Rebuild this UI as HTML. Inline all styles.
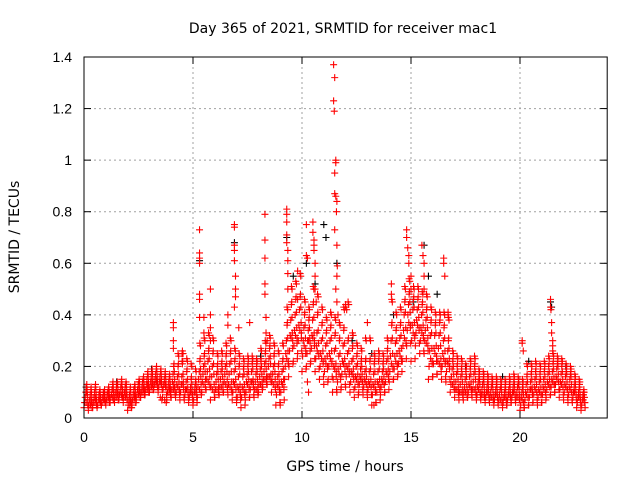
<!DOCTYPE html>
<html><head><meta charset="utf-8"><style>
body{margin:0;background:#fff;}
svg{display:block;font-family:"Liberation Sans",sans-serif;}
.tt{font-family:"DejaVu Sans","Liberation Sans",sans-serif;}
</style></head><body>
<svg id="chart" width="640" height="480">
<text class="tt" x="343" y="33" text-anchor="middle" font-size="14">Day 365 of 2021, SRMTID for receiver mac1</text>
<text class="tt" x="345" y="471" text-anchor="middle" font-size="14">GPS time / hours</text>
<text class="tt" transform="translate(19,237) rotate(-90)" text-anchor="middle" font-size="14">SRMTID / TECUs</text>
<g id="grid"></g><g id="black"></g><g id="red"></g><g id="axes"></g>
</svg>
<script>
const xTicks=[0,5,10,15,20];
const yTicks=[0,0.2,0.4,0.6,0.8,1,1.2,1.4];
const yTickLabels=["0","0.2","0.4","0.6","0.8","1","1.2","1.4"];
const binHours=[0,0.2,0.4,0.6,0.8,1,1.2,1.4,1.6,1.8,2,2.2,2.4,2.6,2.8,3,3.2,3.4,3.6,3.8,4,4.2,4.4,4.6,4.8,5,5.2,5.4,5.6,5.8,6,6.2,6.4,6.6,6.8,7,7.2,7.4,7.6,7.8,8,8.2,8.4,8.6,8.8,9,9.2,9.4,9.6,9.8,10,10.2,10.4,10.6,10.8,11,11.2,11.4,11.6,11.8,12,12.2,12.4,12.6,12.8,13,13.2,13.4,13.6,13.8,14,14.2,14.4,14.6,14.8,15,15.2,15.4,15.6,15.8,16,16.2,16.4,16.6,16.8,17,17.2,17.4,17.6,17.8,18,18.2,18.4,18.6,18.8,19,19.2,19.4,19.6,19.8,20,20.2,20.4,20.6,20.8,21,21.2,21.4,21.6,21.8,22,22.2,22.4,22.6,22.8];
const binValues=[
[.04,.06,.08,.1,.12,.09,.05],[.03,.05,.07,.09,.11,.06,.04],[.04,.06,.08,.1,.12,.07,.05],[.04,.05,.07,.09,.1,.06,.08],[.05,.06,.08,.1,.09,.07,.06],
[.05,.07,.09,.1,.11,.08,.06],[.06,.08,.09,.11,.13,.07,.1],[.06,.08,.1,.12,.13,.09,.07],[.07,.09,.1,.12,.14,.08,.11],[.06,.08,.1,.12,.13,.09,.07],
[.03,.05,.07,.09,.11,.06,.04],[.05,.07,.09,.11,.12,.08,.06],[.07,.09,.11,.13,.14,.1,.08],[.08,.1,.12,.14,.15,.11,.09],[.09,.11,.13,.15,.17,.12,.1],
[.1,.12,.14,.16,.18,.13,.11],[.11,.13,.15,.17,.19,.14,.12],[.1,.12,.14,.16,.18,.13,.07],[.08,.11,.13,.15,.17,.12,.06],[.07,.1,.12,.14,.16,.11,.09],
[.08,.11,.14,.17,.2,.12,.1],[.08,.1,.13,.16,.2,.24,.11],[.07,.1,.13,.16,.21,.25,.12],[.07,.09,.11,.14,.18,.22,.1],[.06,.08,.1,.12,.15,.2,.09],
[.05,.07,.1,.12,.14,.18,.09],[.08,.12,.15,.18,.22,.28,.1],[.1,.14,.17,.2,.24,.3,.12],[.11,.15,.18,.22,.26,.32,.13],[.07,.12,.16,.2,.25,.3,.1],
[.08,.11,.14,.17,.2,.24,.1],[.09,.12,.15,.18,.21,.25,.11],[.1,.14,.17,.2,.24,.28,.12],[.09,.13,.17,.21,.25,.3,.11],[.07,.1,.14,.18,.22,.26,.12],
[.06,.08,.12,.16,.2,.24,.1],[.04,.08,.12,.16,.19,.22,.1],[.07,.1,.14,.17,.2,.23,.12],[.08,.11,.14,.18,.21,.23,.13],[.08,.11,.14,.17,.2,.22,.1],
[.1,.13,.16,.19,.22,.26,.12],[.12,.15,.18,.21,.25,.29,.14],[.13,.16,.2,.23,.27,.31,.15],[.1,.14,.17,.2,.24,.28,.12],[.05,.09,.13,.16,.2,.25,.11],
[.06,.1,.14,.18,.22,.28,.12],[.15,.2,.25,.3,.36,.42,.22],[.2,.26,.32,.38,.44,.5,.3],[.22,.28,.34,.4,.46,.52,.31],[.25,.3,.36,.42,.47,.55,.33],
[.18,.24,.3,.35,.4,.45,.27],[.2,.25,.3,.34,.38,.42,.29],[.22,.27,.32,.38,.44,.5,.3],[.18,.23,.28,.33,.4,.47,.25],[.15,.2,.25,.3,.36,.42,.22],
[.13,.18,.23,.28,.33,.38,.2],[.15,.2,.25,.3,.35,.4,.22],[.1,.15,.2,.26,.32,.38,.18],[.1,.14,.19,.24,.3,.36,.16],[.12,.17,.22,.28,.34,.42,.2],
[.12,.16,.2,.25,.3,.44,.18],[.1,.14,.18,.22,.27,.32,.16],[.08,.12,.16,.2,.24,.28,.14],[.1,.13,.16,.19,.22,.26,.14],[.09,.12,.15,.18,.22,.3,.13],
[.08,.11,.14,.18,.22,.3,.12],[.05,.09,.13,.17,.21,.24,.11],[.06,.1,.14,.18,.22,.25,.12],[.09,.12,.15,.18,.21,.24,.13],[.1,.14,.18,.22,.26,.3,.16],
[.14,.18,.24,.3,.36,.45,.2],[.15,.19,.24,.29,.34,.4,.21],[.17,.21,.26,.31,.36,.42,.23],[.22,.28,.34,.4,.45,.5,.3],[.28,.34,.4,.44,.48,.53,.36],
[.22,.3,.36,.42,.46,.5,.32],[.28,.33,.38,.42,.46,.5,.35],[.25,.3,.35,.4,.44,.48,.32],[.25,.3,.34,.38,.42,.47,.28],[.15,.2,.26,.32,.37,.42,.22],
[.16,.21,.27,.32,.36,.4,.24],[.17,.22,.27,.32,.37,.4,.2],[.15,.2,.25,.3,.35,.4,.22],[.14,.18,.22,.26,.3,.38,.2],[.1,.13,.16,.19,.22,.25,.12],
[.08,.11,.14,.17,.2,.23,.1],[.07,.1,.13,.16,.19,.22,.09],[.07,.1,.12,.15,.18,.2,.09],[.08,.1,.13,.16,.19,.22,.11],[.08,.11,.14,.17,.2,.23,.1],
[.07,.09,.12,.14,.16,.18,.1],[.07,.09,.11,.13,.15,.17,.08],[.06,.08,.1,.12,.14,.16,.09],[.06,.08,.1,.12,.14,.15,.07],[.05,.07,.09,.11,.13,.15,.08],
[.05,.07,.09,.11,.12,.14,.06],[.04,.06,.08,.1,.12,.14,.07],[.05,.07,.09,.11,.13,.15,.08],[.06,.08,.1,.12,.14,.16,.09],[.06,.08,.1,.12,.13,.15,.07],
[.03,.05,.08,.1,.12,.14,.06],[.04,.07,.1,.13,.16,.2,.08],[.05,.08,.11,.14,.17,.2,.1],[.06,.09,.12,.15,.18,.21,.1],[.05,.08,.11,.14,.17,.2,.09],
[.06,.09,.12,.15,.18,.21,.1],[.08,.11,.14,.17,.2,.23,.12],[.09,.12,.15,.18,.21,.24,.13],[.1,.13,.16,.19,.21,.23,.14],[.08,.11,.14,.17,.2,.22,.12],
[.07,.1,.13,.16,.18,.2,.11],[.06,.09,.12,.15,.17,.19,.1],[.06,.08,.1,.12,.14,.16,.09],[.04,.06,.08,.1,.12,.14,.07],[.03,.05,.07,.09,.1,.08,.06]];
const spikeHours=[4.1,4.1,4.1,4.1,4.5,4.5,5.3,5.3,5.3,5.3,5.3,5.3,5.3,5.5,5.5,5.8,5.8,5.8,5.8,6.6,6.6,6.9,6.9,6.9,6.9,6.9,6.95,6.95,6.95,6.9,7.1,7.6,8.3,8.3,8.3,8.3,8.3,8.35,8.35,8.4,9.0,9.3,9.3,9.3,9.3,9.3,9.35,9.35,9.35,9.35,9.8,9.8,10.2,10.2,10.25,10.25,10.3,10.5,10.5,10.55,10.55,10.55,10.6,10.6,10.6,10.65,11.45,11.5,11.45,11.48,11.55,11.55,11.5,11.5,11.55,11.6,11.58,11.5,11.6,11.62,11.6,11.55,11.6,11.65,12.0,12.0,12.05,13.0,13.3,14.1,14.1,14.8,14.8,14.85,14.9,14.9,15.0,15.0,15.5,15.55,15.6,15.6,15.6,16.5,16.5,16.55,16.7,16.7,20.1,20.1,20.15,21.4,21.4,21.42,21.45,21.45,21.5,21.5,21.5];
const spikeValues=[.37,.35,.3,.27,.25,.22,.73,.64,.62,.6,.48,.46,.39,.39,.33,.5,.4,.35,.3,.4,.36,.75,.74,.67,.65,.61,.55,.5,.47,.43,.35,.37,.79,.69,.62,.52,.48,.39,.33,.3,.05,.81,.79,.76,.71,.68,.65,.61,.56,.5,.57,.46,.75,.63,.62,.14,.1,.76,.72,.69,.67,.65,.6,.55,.5,.45,1.37,1.32,1.23,1.19,1.0,.99,.95,.87,.86,.84,.8,.73,.67,.59,.55,.5,.45,.4,.44,.43,.42,.37,.05,.52,.48,.73,.7,.66,.63,.6,.55,.5,.67,.63,.6,.55,.5,.62,.6,.55,.41,.4,.3,.29,.26,.46,.43,.42,.37,.33,.3,.28,.26];
const blackHours=[0.1,1.5,3.1,5.3,6.9,8.1,9.3,9.6,10.2,10.6,11.0,11.1,11.6,12.3,13.2,14.2,15.1,15.6,15.8,16.2,17.5,19.2,20.4,21.4,21.45,22.1];
const blackValues=[.12,.14,.19,.61,.68,.24,.7,.55,.6,.52,.75,.7,.6,.3,.25,.4,.45,.67,.55,.48,.2,.16,.22,.45,.43,.2];

const L=84,R=607.2,T=57,B=418,XMAX=24,YMAX=1.4;
const xs=h=>L+(R-L)*h/XMAX, ys=v=>B-(B-T)*v/YMAX;
const NS='http://www.w3.org/2000/svg';
function mk(tag,attrs,parent){const e=document.createElementNS(NS,tag);for(const k in attrs)e.setAttribute(k,attrs[k]);parent.appendChild(e);return e;}
const grid=document.getElementById('grid'),axes=document.getElementById('axes');
yTicks.forEach((v,i)=>{const y=ys(v);
 if(i>0&&i<yTicks.length-1){const g=mk('line',{x1:L,x2:R,y1:y,y2:y,stroke:'#a0a0a0','stroke-dasharray':'2,3','stroke-width':1},grid);
 
 }
 mk('line',{x1:L,x2:L+7,y1:y,y2:y,stroke:'#000'},axes);mk('line',{x1:R-7,x2:R,y1:y,y2:y,stroke:'#000'},axes);
 const t=mk('text',{x:L-12,y:y+5,'text-anchor':'end','font-size':14},axes);t.textContent=yTickLabels[i];
 
 });
xTicks.forEach(h=>{const x=xs(h);
 if(h>0){const g=mk('line',{x1:x,x2:x,y1:T,y2:B,stroke:'#a0a0a0','stroke-dasharray':'2,3','stroke-width':1},grid);
 
 }
 mk('line',{x1:x,x2:x,y1:B,y2:B-7,stroke:'#000'},axes);mk('line',{x1:x,x2:x,y1:T,y2:T+7,stroke:'#000'},axes);
 const t=mk('text',{x:x,y:B+24,'text-anchor':'middle','font-size':14},axes);t.textContent=h;
 
 });
const fr=mk('rect',{x:L,y:T,width:R-L,height:B-T,fill:'none',stroke:'#000'},axes);


function plus(h,v,col,parent,name){const x=xs(h),y=ys(v);
 const p=mk('path',{d:`M${x-3.5},${y}H${x+3.5}M${x},${y-3.5}V${y+3.5}`,stroke:col,'stroke-width':1.1,fill:'none'},parent);
 
 }
const black=document.getElementById('black'),red=document.getElementById('red');
blackHours.forEach((h,i)=>plus(h,blackValues[i],'#000',black,'black-point'));
binHours.forEach((h,i)=>{const vals=binValues[i],n=vals.length;
 vals.forEach((v,k)=>plus(h+k*0.2/n,v,'#f00',red,'red-point'));
 vals.forEach((v,k)=>plus(h+0.1+((n-1-k)%n)*0.2/n*0.5,v+0.01,'#f00',red,'red-point'));});
spikeHours.forEach((h,i)=>plus(h,spikeValues[i],'#f00',red,'red-spike-point'));
</script>
</body></html>
